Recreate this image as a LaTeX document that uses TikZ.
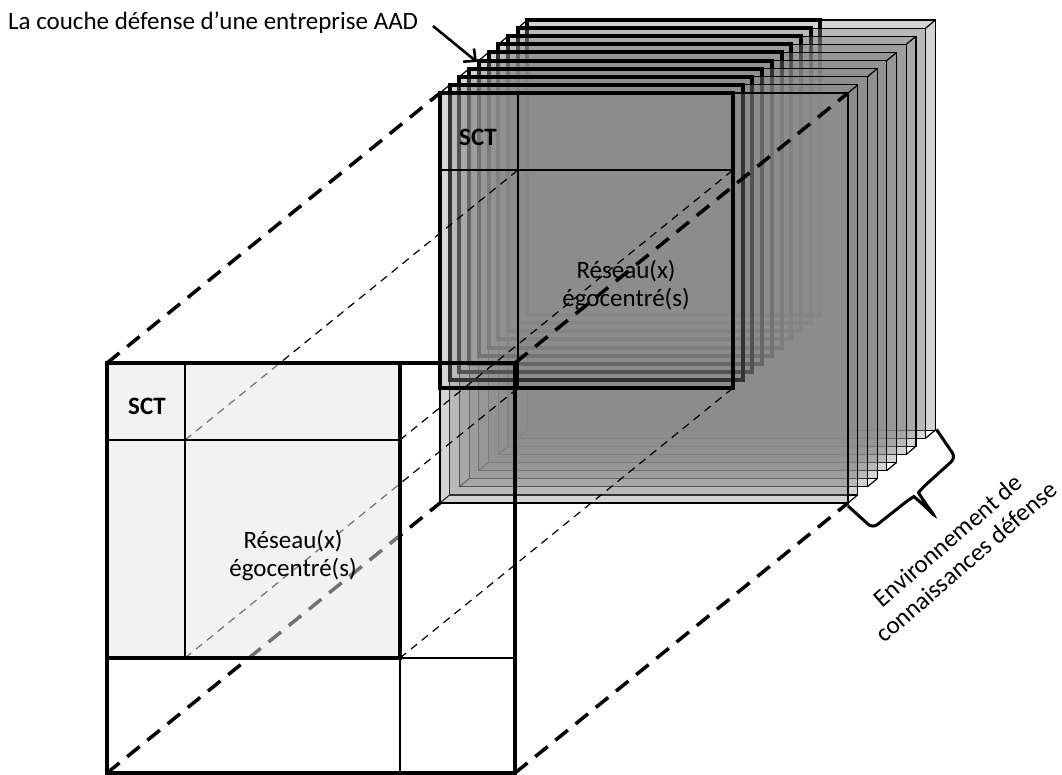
\documentclass[tikz,border=0pt]{standalone}
\usepackage{fontspec}
\setmainfont{Carlito}
\usetikzlibrary{arrows.meta}
\definecolor{slabgray}{gray}{0.545}
\definecolor{sqgray}{gray}{0.898}
\begin{document}
\begin{tikzpicture}[x=1pt,y=-1pt,
  face/.style={fill=slabgray, fill opacity=0.37, draw=black, line width=1.2pt},
  frame/.style={draw=black, line width=4pt},
  edge/.style={draw=black, line width=1.2pt},
  thinln/.style={draw=black, line width=1.2pt},
  thickln/.style={draw=black, line width=4.2pt},
  thickdash/.style={draw=black, line width=3.5pt, dash pattern=on 16pt off 10pt},
  thindash/.style={draw=black, line width=1.2pt, dash pattern=on 8pt off 6pt},
  lbl/.style={font=\fontsize{25}{28}\selectfont, inner sep=0pt, align=center},
  boldlbl/.style={font=\fontsize{25}{28}\selectfont\bfseries, inner sep=0pt}]
\useasboundingbox (0,0) rectangle (1062,775);

% ---- stack of slabs (5 slabs, front and back faces) ----
\foreach \j in {9,8,...,0}{
  \begin{scope}[shift={(9.7*\j,-8.1*\j)}]
    \path[face] (440,93) rectangle (848,503);
    \draw[frame] (440,93) rectangle (733,388);
    \ifodd\j\relax
      \draw[edge] (440,93) -- ++(-9.7,8.1) (848,93) -- ++(-9.7,8.1)
                  (848,503) -- ++(-9.7,8.1) (440,503) -- ++(-9.7,8.1);
    \fi
  \end{scope}
}

% front face of the front slab
\coordinate (S1) at (440,93);  \coordinate (S2) at (848,93);
\coordinate (S3) at (848,503); \coordinate (S4) at (440,503);
\coordinate (E1) at (518,170); \coordinate (E2) at (733,170);
\coordinate (E3) at (518,388); \coordinate (E4) at (733,388);
\draw[thinln] (440,170) -- (E2) (518,93) -- (E3);
\node[boldlbl] (sct2) at (478,137) {SCT};
\node[lbl] (res2) at (626,286) {Réseau(x)\\égocentré(s)};

% front plane coordinates
\coordinate (A1) at (107,363); \coordinate (A2) at (515,363);
\coordinate (A3) at (515,773); \coordinate (A4) at (107,773);
\coordinate (G2) at (400,363); \coordinate (G3) at (400,658);
\coordinate (G4) at (107,658);
\coordinate (D1) at (185,440); \coordinate (D2) at (400,440);
\coordinate (D3) at (185,658);

% projection lines
\draw[thickdash] (A1) -- (S1);
\draw[thickdash] (A2) -- (S2);
\draw[thickdash] (A3) -- (S3);
\draw[thickdash] (A4) -- (S4);
\draw[thindash] (D1) -- (E1);
\draw[thindash] (D2) -- (E2);
\draw[thindash] (D3) -- (E3);
\draw[thindash] (G3) -- (E4);

% grey square of the front plane
\path[fill=sqgray, fill opacity=0.5] (A1) rectangle (G3);
\draw[thinln] (G3) -- (400,773) (G3) -- (515,658);
\draw[thinln] (185,363) -- (D3) (107,440) -- (D2);
\draw[thickln] (A1) rectangle (G3);
\draw[thickln] (G4) -- (A4) -- (A3) -- (A2) -- (G2);
\node[boldlbl] (sct1) at (147,406) {SCT};
\node[lbl] (res1) at (293,556) {Réseau(x)\\égocentré(s)};

% label with arrow
\node[lbl, anchor=base west] (title) at (8,30) {La couche défense d’une entreprise AAD};
\coordinate (arrS) at (433,26);
\coordinate (arrE) at (477,62);
\draw[line width=2.6pt, -{Straight Barb[length=9pt,width=17pt,line width=2.6pt]}] (arrS) -- (arrE);

% brace
\begin{scope}[shift={(848,506)}, rotate=40.9]
  \draw[line width=3pt, rounded corners=6pt] (0,0) -- (4,33) -- (50,35)
     .. controls (56,36) and (58,48) .. (59,66)
     .. controls (60,48) and (62,36) .. (68,35) -- (113,34) -- (117,0);
\end{scope}
\node[lbl, rotate=40.9] (env) at (957,551) {Environnement de\\connaissances défense};
\end{tikzpicture}
\end{document}
